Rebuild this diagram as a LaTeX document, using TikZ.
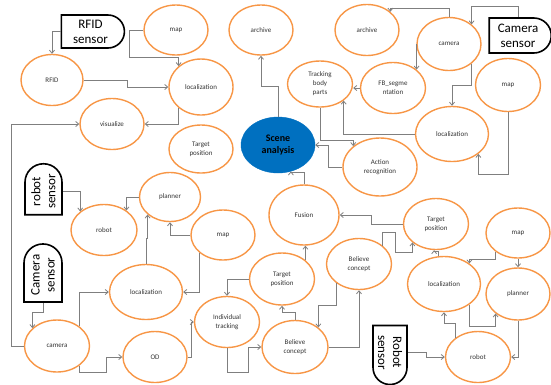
\documentclass[tikz,border=0pt]{standalone}
\usepackage{fontspec}
\setmainfont{Carlito}
\usetikzlibrary{shapes.geometric,shapes.misc,arrows.meta}
\definecolor{procorange}{HTML}{F79646}
\definecolor{hubblue}{HTML}{0070C0}
\definecolor{linkgray}{HTML}{7F7F7F}

\begin{document}
\begin{tikzpicture}[x=1pt,y=-1pt,
    proc/.style={ellipse,draw=procorange,line width=1.4pt,minimum width=64pt,minimum height=51pt,inner sep=0pt,align=center,text=black!80,font=\fontsize{7}{9}\selectfont},
    hub/.style={ellipse,draw=hubblue,fill=hubblue,minimum width=74pt,minimum height=56pt,inner sep=0pt,align=center,font=\bfseries\fontsize{10}{12.5}\selectfont},
    sensor/.style={rounded rectangle,rounded rectangle left arc=none,draw=black,line width=1.6pt,inner sep=1pt,align=center,font=\fontsize{13}{15}\selectfont},
    link/.style={draw=linkgray,line width=0.8pt,-{Straight Barb[length=3pt,width=5pt]}}]
    \useasboundingbox (0,0) rectangle (551,384);

    \node[sensor,minimum width=65pt,minimum height=33pt] (rfidsens) at (90.5,31.5) {RFID\\sensor};
    \node[proc,minimum width=62pt] (rfid) at (52,80) {RFID};
    \node[proc,minimum height=50pt] (mapA) at (176,30) {map};
    \node[proc,minimum height=56pt] (locA) at (201,87) {localization};
    \node[proc] (vis) at (112,124) {visualize};
    \node[proc,minimum height=48pt] (tgtA) at (201,149) {Target\\position};
    \node[proc,minimum height=50pt] (archA) at (261,30) {archive};
    \node[hub] (scene) at (278,145) {Scene\\analysis};

    \node[proc] (archB) at (367,30) {archive};
    \node[proc,minimum height=53pt] (camA) at (449,44) {camera};
    \node[sensor,minimum width=64pt,minimum height=35pt] (camsensA) at (518,35.5) {Camera\\sensor};
    \node[proc,minimum width=65pt,minimum height=46pt] (track) at (320,84) {Tracking\\body\\parts};
    \node[proc,minimum width=65pt] (fbseg) at (393,88) {FB\_segme\\ntation};
    \node[proc,minimum width=65pt,minimum height=53pt] (mapB) at (508,85) {map};
    \node[proc,minimum width=73pt,minimum height=55pt] (locB) at (452,134) {localization};
    \node[proc,minimum width=74pt,minimum height=58pt] (action) at (380,167) {Action\\recognition};

    \node[sensor,rotate=90,minimum width=53pt,minimum height=37pt] (robsensA) at (43.5,191.5) {robot\\sensor};
    \node[proc,minimum width=66pt] (robotA) at (104,230) {robot};
    \node[proc,minimum width=61pt,minimum height=49pt] (planA) at (170,197) {planner};
    \node[proc,minimum height=50pt] (mapC) at (223,235) {map};
    \node[sensor,rotate=90,minimum width=60pt,minimum height=38pt] (camsensB) at (43,275) {Camera\\sensor};
    \node[proc,minimum width=73pt,minimum height=55pt] (locC) at (146,292) {localization};
    \node[proc,minimum width=65pt,minimum height=52pt] (camB) at (57,346) {camera};
    \node[proc] (od) at (155,357) {OD};
    \node[proc,minimum width=65pt] (indiv) at (227,322) {Individual\\tracking};

    \node[proc,minimum width=70pt,minimum height=60pt] (fusion) at (304,215) {Fusion};
    \node[proc,minimum width=65pt] (tgtB) at (436,224) {Target\\position};
    \node[proc,minimum height=50pt] (mapD) at (518,233) {map};
    \node[proc,minimum width=65pt,minimum height=52pt] (tgtC) at (282,279) {Target\\position};
    \node[proc,minimum width=65pt] (belA) at (359,264) {Believe\\concept};
    \node[proc,minimum width=73pt,minimum height=55pt] (locD) at (444,284) {localization};
    \node[proc,minimum height=52pt] (planB) at (518,294) {planner};
    \node[proc,minimum width=66pt,minimum height=53pt] (belB) at (295,347) {Believe\\concept};
    \node[sensor,rotate=-90,minimum width=61pt,minimum height=34pt] (robsensB) at (390,352.5) {Robot\\sensor};
    \node[proc,minimum width=65pt] (robotB) at (478,357) {robot};

    \draw[link] (rfidsens.west) -| (rfid.north);
    \draw[link] (rfid.east) -- ++(44,0) |- (locA.west);
    \draw[link] (mapA.west) -- ++(-14,0) -- ++(0,27) -| (locA.137);
    \draw[link] (locA.223) |- (vis.east);
    \draw[link] (camB.west) -- ++(-12,0) |- (vis.west);
    \draw[link] (scene.north) -- ++(0,-30) -| (archA.south);
    \draw[link] (camA.north) -- ++(0,-8) -| (archB.38);
    \draw[link] (camsensA.north) -- ++(0,-11) -| (camA.41);
    \draw[link] (camA.west) -| (fbseg.38);
    \draw[link] (fbseg.west) -- (fbseg.west -| track.east);
    \draw[link] (camA.-41) -- ++(0,22) -| (locB.north);
    \draw[link] (mapB.south) -- ++(0,62.5) -| (locB.-37);
    \draw[link] (locB.west) -| (track.-35);
    \draw[link] (track.south) -- ++(0,33) -| (action.142);
    \draw[link] (action.west) -- ++(-14,0) |- (scene.east);
    \draw[link] (fusion.north) -- ++(0,-12) -| (scene.-64);
    \draw[link] (tgtB.west) -- ++(-31,0) |- (fusion.east);
    \draw[link] (belA.38) -- ++(0,-13) -- ++(13,0) -- ++(0,20) -| (tgtB.218);
    \draw[link] (locD.102) -- ++(0,-5) -| (tgtB.266);
    \draw[link] (mapD.220) -- ++(0,8) -| (locD.39);
    \draw[link] (mapD.south) -- (planB.north);
    \draw[link] (locD.-39) -- ++(0,22) -| (planB.221);
    \draw[link] (planB.south) |- (robotB.east);
    \draw[link] (robotB.140) -- ++(0,-15) -| (locD.south);
    \draw[link] (robsensB.north) -- ++(19,0) |- (robotB.west);
    \draw[link] (belB.north) -- ++(0,-7) -| (tgtC.south);
    \draw[link] (tgtC.39) -- (tgtC.39 |- fusion.south);
    \draw[link] (belA.220) -- ++(0,22) -| (belB.40);
    \draw[link] (belB.east) -| (belA.south);
    \draw[link] (indiv.south) -- ++(0,24.5) -- ++(21,0) |- (belB.west);
    \draw[link] (tgtC.west) -| (indiv.north);
    \draw[link] (od.east) -- ++(4,0) |- (indiv.west);
    \draw[link] (camB.41) |- (locC.west);
    \draw[link] (camB.-41) -- ++(0,7) -- ++(27,0) |- (od.west);
    \draw[link] (camsensB.west) -- ++(0,10) -| (camB.144);
    \draw[link] (robsensA.south) -| (robotA.142);
    \draw[link] (planA.west) -| (robotA.41);
    \draw[link] (locC.north) -- ++(0,-25.5) -| (planA.218);
    \draw[link] (mapC.west) -| (planA.south);
    \draw[link] (mapC.217) |- (locC.east);
\end{tikzpicture}
\end{document}
